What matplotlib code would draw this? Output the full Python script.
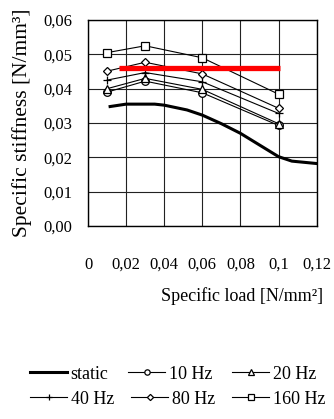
import matplotlib
matplotlib.use("Agg")
import matplotlib.pyplot as plt
from matplotlib.ticker import MultipleLocator, FuncFormatter

plt.rcParams['font.family'] = ['Liberation Serif', 'DejaVu Serif']

load = [0.01, 0.03, 0.06, 0.10]
series = {
    "10 Hz": ([0.0390, 0.0422, 0.0388, 0.0293], "o"),
    "20 Hz": ([0.0400, 0.0430, 0.0398, 0.0298], "^"),
    "40 Hz": ([0.0425, 0.0447, 0.0420, 0.0328], "+"),
    "80 Hz": ([0.0451, 0.0477, 0.0443, 0.0343], "D"),
    "160 Hz": ([0.0505, 0.0525, 0.0490, 0.0384], "s"),
}
static_x = [0.0116, 0.02, 0.035, 0.04, 0.052, 0.06, 0.07, 0.08, 0.09, 0.10, 0.107, 0.12]
static_y = [0.0348, 0.0355, 0.0355, 0.0352, 0.0338, 0.0323, 0.0298, 0.0270, 0.0236, 0.0202, 0.0189, 0.0182]
red_x = [0.0165, 0.101]
red_y = [0.0459, 0.0459]

fig = plt.figure(figsize=(3.34, 4.19), dpi=100)
ax = fig.add_axes([0.2635, 0.4606, 0.6845, 0.4916])

handles = []
h, = ax.plot(static_x, static_y, color='black', lw=2.2, label='static')
handles.append(h)
for name, (vals, m) in series.items():
    ms = 5.5 if m != 'D' else 4.5
    h, = ax.plot(load, vals, color='black', lw=0.8, marker=m, ms=ms,
                 mfc='white', mec='black', mew=0.9, label=name)
    handles.append(h)
ax.plot(red_x, red_y, color='#ff0000', lw=3.8, solid_capstyle='butt', zorder=5)

ax.set_xlim(0, 0.12)
ax.set_ylim(0, 0.06)
ax.xaxis.set_major_locator(MultipleLocator(0.02))
ax.yaxis.set_major_locator(MultipleLocator(0.01))

def xfmt(v, p):
    if abs(v) < 1e-9:
        return "0"
    s = f"{v:.2f}".rstrip('0')
    return s.replace('.', ',')
ax.xaxis.set_major_formatter(FuncFormatter(xfmt))
ax.yaxis.set_major_formatter(FuncFormatter(lambda v, p: f"{v:.2f}".replace('.', ',')))

ax.grid(True, color='#222222', lw=0.8)
ax.set_axisbelow(True)
for s in ax.spines.values():
    s.set_color('black')
    s.set_linewidth(1.0)
ax.tick_params(axis='both', length=0, labelsize=12)
ax.tick_params(axis='x', pad=22)
ax.tick_params(axis='y', pad=11)

ax.set_ylabel("Specific stiffness [N/mm³]", fontsize=15.5)
ax.yaxis.set_label_coords(-0.245, 0.50)
fig.text(0.967, 0.293, "Specific load [N/mm²]", ha='right', va='center', fontsize=13)

common = dict(frameon=False, fontsize=13, handlelength=2.05, handletextpad=0.2,
              borderpad=0, borderaxespad=0, ncol=3, loc='center left',
              markerscale=0.7)
fig.legend(handles[:3], [h.get_label() for h in handles[:3]],
           bbox_to_anchor=(30/334, 1-374/419), columnspacing=1.1, **common)
fig.legend(handles[3:], [h.get_label() for h in handles[3:]],
           bbox_to_anchor=(30/334, 1-399/419), columnspacing=0.95, **common)

fig.savefig("out.png", dpi=100)
